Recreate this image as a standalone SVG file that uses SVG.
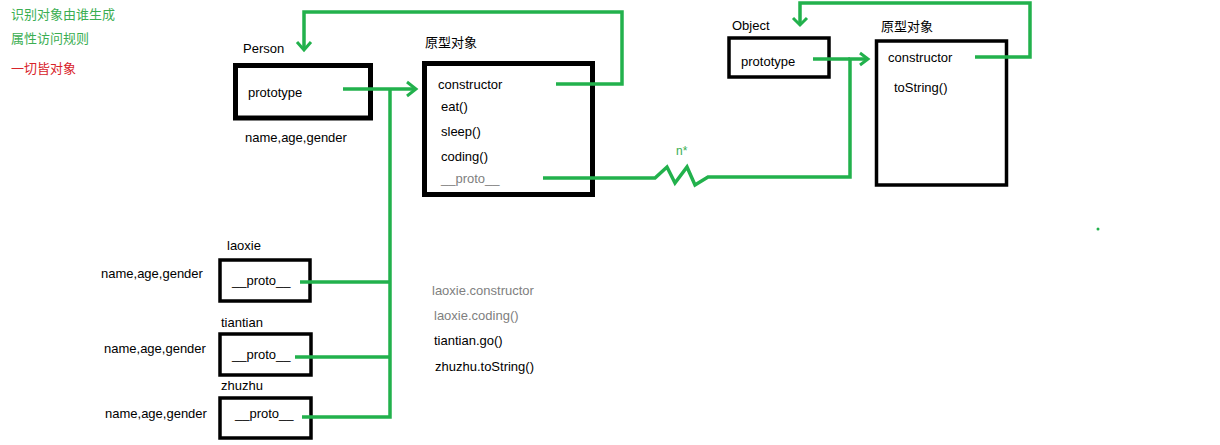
<svg xmlns="http://www.w3.org/2000/svg" width="1220" height="445" viewBox="0 0 1220 445">
<style>
text{font-family:"Liberation Sans","Noto Sans CJK SC",sans-serif;font-size:13px;fill:#000}
.cn{font-family:"Noto Sans CJK SC",sans-serif;font-size:13px}
.g{fill:#3bae52}
.r{fill:#d8232a}
.gray{fill:#808080}
.box{fill:none;stroke:#000}
.thick{stroke-width:5}
.thin{stroke-width:3.5}
.c{fill:none;stroke:#22b14c;stroke-width:3.5;stroke-linejoin:miter}
.ah{fill:none;stroke:#22b14c;stroke-width:3}
</style>
<rect width="1220" height="445" fill="#fff"/>
<g id="notes">
<text class="cn g" x="11" y="19">识别对象由谁生成</text>
<text class="cn g" x="11" y="43">属性访问规则</text>
<text class="cn r" x="11" y="73">一切皆对象</text>
</g>
<g id="person">
<text x="243" y="53">Person</text>
<rect class="box thick" x="235.5" y="65.5" width="135" height="52.5"/>
<text x="248" y="97">prototype</text>
<text x="245" y="142">name,age,gender</text>
</g>
<g id="person-proto">
<text class="cn" x="425" y="47">原型对象</text>
<rect class="box thick" x="424.5" y="63.5" width="168" height="131"/>
<text x="438" y="89">constructor</text>
<text x="441" y="111">eat()</text>
<text x="441" y="136">sleep()</text>
<text x="441" y="161">coding()</text>
<text class="gray" x="441" y="183">__proto__</text>
</g>
<g id="object">
<text x="732" y="30">Object</text>
<rect class="box thin" x="729" y="38" width="100" height="39"/>
<text x="741" y="66">prototype</text>
</g>
<g id="object-proto">
<text class="cn" x="881" y="31">原型对象</text>
<rect class="box thin" x="876.5" y="41" width="130" height="144"/>
<text x="888" y="62">constructor</text>
<text x="894" y="92">toString()</text>
</g>
<g id="laoxie">
<text x="227" y="250">laoxie</text>
<rect class="box thin" x="220" y="260" width="90" height="41"/>
<text x="232" y="285">__proto__</text>
<text x="101" y="278">name,age,gender</text>
</g>
<g id="tiantian">
<text x="221" y="327">tiantian</text>
<rect class="box thin" x="220" y="334" width="91" height="41"/>
<text x="232" y="359">__proto__</text>
<text x="104" y="353">name,age,gender</text>
</g>
<g id="zhuzhu">
<text x="221" y="390">zhuzhu</text>
<rect class="box thin" x="220" y="398" width="91" height="40"/>
<text x="235" y="418">__proto__</text>
<text x="105" y="418">name,age,gender</text>
</g>
<g id="questions">
<text class="gray" x="432" y="295">laoxie.constructor</text>
<text class="gray" x="434" y="320">laoxie.coding()</text>
<text x="434" y="345">tiantian.go()</text>
<text x="435" y="371">zhuzhu.toString()</text>
</g>
<g id="connectors">
<polyline class="c" points="343,89 416,89"/>
<polyline class="ah" points="407,82 416,89 407,96"/>
<polyline class="c" points="300,282 390,282"/>
<polyline class="c" points="295,357 390,357"/>
<polyline class="c" points="302,417 390,417 390,89"/>
<polyline class="c" points="556,84 622,84 622,12 304,12 304,50"/>
<polyline class="ah" points="297,42 304,50 311,42"/>
<polyline class="c" points="543,178 655,178 667,167 675,183 687,167 695,185 708,177 850,177 850,59 868,59"/>
<polyline class="c" points="813,59 850,59"/>
<polyline class="ah" points="860,53 868,59 860,65"/>
<polyline class="c" points="975,57 1030,57 1030,3 800,3 800,25"/>
<polyline class="ah" points="793,18 800,25 807,18"/>
<text class="g" x="676" y="155" style="font-size:12px">n*</text>
</g>
<circle cx="1098" cy="229" r="1.5" fill="#22b14c"/>
</svg>
